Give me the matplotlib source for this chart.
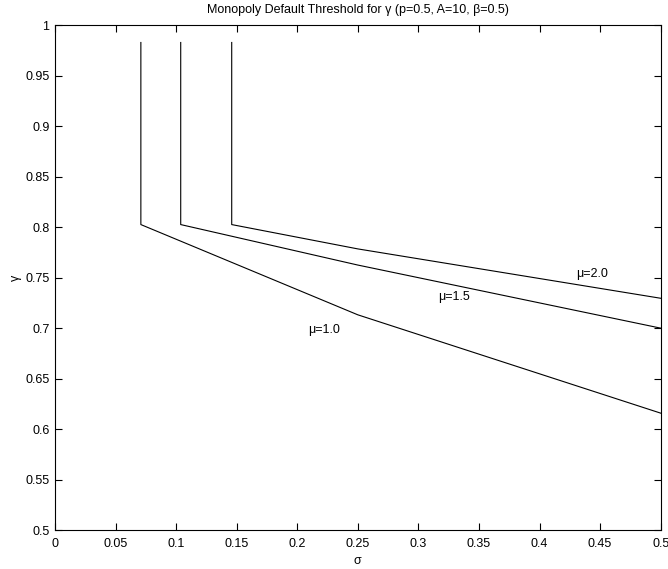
import numpy as np
import matplotlib
matplotlib.use('Agg')
import matplotlib.pyplot as plt

# values
sigma_mu1 = [0.0709, 0.0709, 0.25, 0.5]
gamma_mu1 = [0.983, 0.8026, 0.7132, 0.6158]

sigma_mu15 = [0.1038, 0.1038, 0.25, 0.5]
gamma_mu15 = [0.983, 0.8026, 0.7625, 0.700]

sigma_mu2 = [0.1459, 0.1459, 0.25, 0.5]
gamma_mu2 = [0.983, 0.8026, 0.7785, 0.7296]

labels = ['\u03bc=1.0', '\u03bc=1.5', '\u03bc=2.0']
label_pos = [(0.209, 0.698), (0.316, 0.7305), (0.430, 0.7537)]

xticks = [0, 0.05, 0.1, 0.15, 0.2, 0.25, 0.3, 0.35, 0.4, 0.45, 0.5]
yticks = [0.5, 0.55, 0.6, 0.65, 0.7, 0.75, 0.8, 0.85, 0.9, 0.95, 1]

plt.rcParams['font.family'] = ['Liberation Sans', 'DejaVu Sans']
plt.rcParams['font.size'] = 9

fig = plt.figure(figsize=(6.68, 5.69), dpi=100)
ax = fig.add_axes([0.0823, 0.0685, 0.9067, 0.887])

for xs, ys in [(sigma_mu1, gamma_mu1), (sigma_mu15, gamma_mu15), (sigma_mu2, gamma_mu2)]:
    ax.plot(xs, ys, color='black', lw=0.8)

for lab, (x, y) in zip(labels, label_pos):
    ax.text(x, y, lab, ha='left', va='center', fontsize=9)

ax.set_xlim(0, 0.5)
ax.set_ylim(0.5, 1)
ax.set_xticks(xticks)
ax.set_xticklabels([f'{v:g}' for v in xticks])
ax.set_yticks(yticks)
ax.set_yticklabels([f'{v:g}' for v in yticks])
ax.tick_params(direction='in', top=True, right=True, length=5, width=0.8)
ax.tick_params(axis='x', pad=6)
ax.tick_params(axis='y', pad=4)
for s in ax.spines.values():
    s.set_linewidth(0.8)

ax.set_xlabel('\u03c3', labelpad=3)
ax.set_ylabel('\u03b3', labelpad=2)
ax.set_title('Monopoly Default Threshold for \u03b3 (p=0.5, A=10, \u03b2=0.5)', fontsize=9, pad=9)

fig.savefig('out.png', dpi=100)
